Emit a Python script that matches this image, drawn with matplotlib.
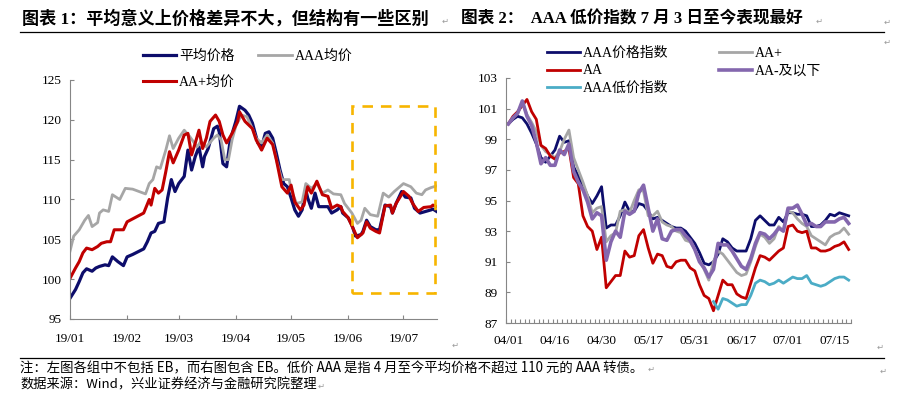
import matplotlib
matplotlib.use("Agg")
import matplotlib.pyplot as plt
import matplotlib.dates as mdates
from matplotlib.patches import Rectangle
import pandas as pd
import numpy as np

# 左图：2019 年以来各组价格（日期用 1 月 1 日起的天数表示）
avg_days = [0, 3, 5, 7, 9, 12, 14, 16, 19, 21, 23, 26, 29, 31, 34, 40, 42, 44, 46, 48, 51, 53, 55, 57, 59,
            62, 64, 66, 68, 70, 72, 73, 75, 78, 80, 81, 83, 85, 87, 90, 92, 95, 97, 99, 101, 102, 104, 106,
            108, 110, 112, 114, 116, 118, 120, 122, 124, 126, 128, 129, 131, 133, 135, 138, 140, 142, 145,
            147, 148, 151, 153, 155, 158, 159, 161, 163, 166, 168, 171, 174, 175, 177, 180, 182, 185, 187,
            190, 193, 196, 197, 199]
avg_vals = [97.6, 98.7, 99.7, 100.8, 101.3, 101.0, 101.4, 101.6, 101.8, 101.7, 102.8, 102.2, 101.7, 102.8,
            103.1, 103.8, 104.7, 105.8, 106.0, 107.0, 107.2, 110.2, 112.5, 111.0, 112.0, 112.9, 116.2, 113.7,
            115.4, 116.6, 114.1, 115.4, 116.4, 118.9, 119.2, 118.5, 114.5, 114.1, 117.5, 119.8, 121.7, 121.2,
            120.6, 119.6, 117.9, 117.1, 116.6, 118.3, 118.5, 117.7, 115.8, 113.7, 112.0, 111.6, 110.2, 108.7,
            107.9, 108.7, 111.2, 110.2, 108.9, 110.8, 109.1, 109.1, 109.1, 108.3, 108.7, 109.1, 108.3, 107.7,
            106.8, 105.4, 105.6, 106.0, 107.4, 106.6, 106.2, 106.2, 109.3, 109.1, 108.3, 109.5, 111.0, 110.3,
            110.2, 108.9, 108.3, 108.5, 108.7, 108.8, 108.5]

aaa_days = [0, 2, 5, 8, 10, 12, 15, 16, 18, 21, 23, 27, 30, 34, 41, 43, 45, 47, 49, 52, 54, 56, 59, 62, 65,
            69, 71, 74, 78, 80, 82, 84, 86, 88, 90, 93, 96, 99, 101, 104, 107, 110, 112, 115, 119, 120, 123,
            126, 128, 131, 134, 137, 140, 143, 147, 149, 153, 156, 158, 160, 163, 167, 170, 173, 176, 178,
            181, 185, 188, 191, 193, 196, 199]
aaa_vals = [103.5, 105.4, 106.2, 107.4, 108.0, 106.6, 107.1, 108.3, 108.7, 108.5, 110.6, 110.0, 111.4, 111.3,
            110.7, 112.0, 112.5, 114.1, 113.9, 116.2, 118.0, 116.4, 117.7, 118.7, 117.9, 116.6, 117.3, 116.6,
            117.7, 118.1, 117.5, 115.0, 115.0, 117.5, 119.2, 120.6, 120.4, 118.9, 117.7, 117.1, 118.1, 117.1,
            115.0, 112.5, 112.5, 111.2, 109.5, 109.7, 112.0, 111.4, 112.0, 110.8, 111.2, 110.7, 110.6, 109.5,
            108.3, 107.0, 107.4, 108.9, 108.1, 107.9, 110.8, 110.3, 111.0, 111.4, 112.0, 111.6, 110.8, 110.6,
            111.2, 111.5, 111.7]

aap_days = [0, 3, 5, 7, 9, 12, 15, 17, 20, 22, 24, 26, 29, 31, 40, 43, 44, 46, 48, 50, 52, 54, 56, 59, 62,
            64, 66, 68, 70, 72, 74, 76, 79, 81, 83, 85, 88, 91, 92, 95, 99, 101, 104, 107, 110, 112, 115, 118,
            120, 122, 125, 127, 129, 131, 134, 137, 140, 142, 145, 147, 148, 151, 154, 156, 159, 161, 163,
            166, 168, 171, 174, 175, 177, 181, 184, 186, 189, 192, 196, 197, 199]
aap_vals = [100.1, 101.4, 102.2, 103.3, 103.9, 103.7, 104.1, 104.5, 104.7, 104.7, 106.2, 106.2, 106.2, 107.2,
            108.3, 110.0, 109.3, 111.4, 110.8, 111.2, 113.5, 116.0, 114.6, 116.2, 118.1, 118.3, 115.6, 117.1,
            118.7, 116.4, 117.7, 119.8, 120.6, 119.8, 118.1, 117.1, 118.3, 119.8, 121.0, 119.8, 118.9, 117.5,
            116.2, 117.7, 116.9, 115.0, 111.6, 110.8, 111.8, 109.7, 108.7, 109.3, 111.6, 110.8, 112.3, 110.6,
            110.4, 108.9, 109.3, 109.1, 108.5, 107.7, 106.2, 105.2, 105.8, 107.2, 106.4, 106.0, 105.8, 109.2,
            109.3, 108.3, 109.5, 111.0, 110.4, 109.5, 108.5, 109.0, 109.1, 109.3, 109.1]

month_labels = ['19/01', '19/02', '19/03', '19/04', '19/05', '19/06', '19/07']

# 右图：4 月 1 日起的交易日指数
right_labels = ['04/01', '04/16', '04/30', '05/17', '05/31', '06/17', '07/01', '07/15']
idx_aaa = [100.0, 100.3, 100.5, 100.4, 100.0, 99.4, 98.7, 97.8, 97.5, 97.9, 98.3, 99.2, 98.8, 98.9, 97.2,
           96.6, 96.0, 95.3, 94.8, 95.3, 95.9, 93.2, 93.4, 93.4, 94.0, 94.9, 94.3, 94.3, 94.8, 94.7, 94.3,
           93.8, 93.9, 93.7, 93.5, 93.3, 93.2, 93.2, 93.0, 92.6, 92.2, 91.6, 90.9, 90.8, 91.0, 91.5, 92.5,
           92.3, 91.9, 91.7, 91.7, 91.7, 92.5, 93.7, 94.0, 93.7, 93.4, 93.4, 93.9, 93.6, 94.2, 94.2, 94.1,
           94.1, 94.0, 93.3, 93.3, 93.4, 93.7, 94.1, 94.0, 94.2, 94.1, 94.0]
idx_aap = [100.0, 100.4, 100.7, 101.4, 100.6, 100.1, 99.5, 98.6, 98.2, 98.0, 97.8, 98.2, 99.0, 99.6, 97.8,
           97.0, 96.2, 95.3, 94.2, 94.5, 94.6, 92.3, 92.7, 92.9, 94.3, 94.4, 94.2, 95.0, 95.7, 95.6, 94.0,
           94.0, 94.3, 93.6, 93.4, 93.3, 93.0, 92.9, 92.4, 92.3, 91.8, 91.1, 90.5, 89.8, 91.0, 91.7, 91.5,
           91.1, 90.7, 90.3, 90.1, 90.2, 91.0, 92.0, 92.8, 92.6, 92.2, 92.5, 93.3, 93.0, 94.3, 94.2, 93.8,
           93.5, 93.3, 92.7, 92.5, 92.3, 92.1, 92.6, 92.8, 92.9, 93.2, 92.8]
idx_aa = [100.0, 100.5, 100.8, 101.2, 101.6, 100.8, 100.3, 98.6, 98.4, 97.9, 97.7, 98.1, 98.2, 98.4, 96.5,
          96.1, 94.0, 93.3, 93.0, 91.8, 92.6, 89.3, 89.7, 90.1, 90.1, 91.7, 91.3, 91.4, 92.7, 93.1, 91.9,
          90.9, 91.5, 91.4, 90.7, 90.6, 91.0, 91.1, 91.1, 90.6, 90.4, 89.5, 88.8, 88.6, 87.8, 88.8, 89.8,
          89.5, 89.5, 88.9, 88.7, 88.6, 89.6, 90.6, 91.4, 91.3, 91.1, 91.4, 91.7, 91.9, 93.3, 93.4, 93.0,
          92.9, 93.0, 91.9, 91.9, 91.7, 91.7, 91.8, 92.0, 92.1, 92.3, 91.8]
idx_aam = [100.0, 100.4, 100.7, 101.5, 100.5, 99.9, 98.8, 97.4, 97.8, 97.3, 97.3, 98.3, 98.0, 98.7, 96.9,
           96.2, 95.7, 94.9, 93.8, 94.2, 94.0, 91.1, 92.3, 93.0, 92.6, 94.3, 94.1, 94.3, 95.5, 96.0, 94.5,
           93.0, 93.8, 92.5, 92.4, 93.0, 93.1, 93.1, 92.7, 92.4, 91.8, 91.0, 90.6, 90.0, 90.5, 92.2, 92.1,
           92.1, 91.7, 91.2, 90.7, 90.5, 91.2, 92.2, 92.9, 92.8, 92.5, 92.8, 93.2, 93.0, 94.5, 94.5, 94.7,
           94.1, 93.4, 93.5, 93.3, 93.3, 93.6, 93.6, 93.6, 93.8, 93.9, 93.5]
# 低价指数从 6 月初才开始
low_start = 44
idx_low = [88.4, 87.9, 88.6, 88.5, 88.3, 88.1, 88.2, 88.2, 88.8, 89.6, 89.8, 89.7, 89.5, 89.6, 89.8, 89.6,
           89.8, 90.0, 89.9, 89.9, 90.1, 89.6, 89.5, 89.4, 89.5, 89.7, 89.9, 90.0, 90.0, 89.8]

NAVY = '#0D0D6B'
GREY = '#A6A6A6'
RED = '#C00000'
PURPLE = '#8467AE'
CYAN = '#4BACC6'
AXIS = '#868686'

CJK = 'Noto Sans CJK SC'
MIX = ['Liberation Serif', CJK]

fig = plt.figure(figsize=(9.08, 3.95), dpi=100)
W, H = 908, 395

def fx(px):
    return px / W

def fy(py):
    return 1 - py / H

# 标题与分隔线
fig.text(fx(22), fy(19), '图表 1：平均意义上价格差异不大，但结构有一些区别', family=MIX,
         fontsize=12.3, fontweight='bold', va='center', ha='left')
fig.text(fx(461), fy(19), '图表 2：  AAA 低价指数 7 月 3 日至今表现最好', family=MIX,
         fontsize=12.0, fontweight='bold', va='center', ha='left')
fig.add_artist(plt.Line2D([fx(20), fx(884)], [fy(32), fy(32)], color='black', lw=0.9))
fig.add_artist(plt.Line2D([fx(20), fx(884)], [fy(358), fy(358)], color='black', lw=0.9))
fig.text(fx(20), fy(368), '注：左图各组中不包括 EB，而右图包含 EB。低价 AAA 是指 4 月至今平均价格不超过 110 元的 AAA 转债。',
         family=[CJK], fontsize=9.6, va='center', ha='left')
fig.text(fx(20), fy(385), '数据来源：Wind，兴业证券经济与金融研究院整理', family=[CJK], fontsize=9.5,
         va='center', ha='left')

# 段落标记
for px, py in [(442, 21), (816, 21), (884, 22), (884, 42), (452, 345), (877, 347),
               (648, 369), (880, 371), (318, 386)]:
    fig.text(fx(px), fy(py), '↵', family=['DejaVu Sans'], fontsize=6, color='#9A9A9A',
             va='center', ha='left')


def style_axes(ax):
    for side in ['top', 'right']:
        ax.spines[side].set_visible(False)
    for side in ['left', 'bottom']:
        ax.spines[side].set_color(AXIS)
        ax.spines[side].set_linewidth(0.8)
    ax.tick_params(which='both', direction='in', color=AXIS, width=0.8, labelsize=9.5)
    for lab in ax.get_xticklabels() + ax.get_yticklabels():
        lab.set_family('Liberation Serif')


# ---- 左图 ----
base = pd.Timestamp('2019-01-01')

def to_dates(days):
    return base + pd.to_timedelta(days, unit='D')

ax1 = fig.add_axes([fx(70), fy(319), fx(437) - fx(70), fy(80) - fy(319)])
l_avg, = ax1.plot(to_dates(avg_days), avg_vals, color=NAVY, lw=2.3, label='平均价格')
l_aaa, = ax1.plot(to_dates(aaa_days), aaa_vals, color=GREY, lw=2.0, label='AAA均价')
l_aap, = ax1.plot(to_dates(aap_days), aap_vals, color=RED, lw=2.2, label='AA+均价')
ax1.set_ylim(95, 125)
ax1.set_yticks(np.arange(95, 126, 5))
ax1.set_xlim(base, base + pd.Timedelta(days=199.2))
ax1.set_xticks(pd.date_range('2019-01-01', '2019-07-01', freq='MS'))
ax1.set_xticklabels(month_labels)
ax1.tick_params(axis='x', length=3, pad=10)
ax1.tick_params(axis='y', length=3, pad=6)
style_axes(ax1)

x0 = mdates.date2num(base + pd.Timedelta(days=153))
x1 = mdates.date2num(base + pd.Timedelta(days=198.2))
ax1.add_patch(Rectangle((x0, 98.25), x1 - x0, 121.7 - 98.25, fill=False, edgecolor='#F7B500',
                        lw=1.9, ls=(0, (4, 3)), zorder=5))

fig.legend([l_avg, l_aap, l_aaa], ['平均价格', 'AA+均价', 'AAA均价'], ncol=2, loc='upper left',
           bbox_to_anchor=(fx(143), fy(50)), frameon=False, borderpad=0, borderaxespad=0,
           handlelength=2.4, handletextpad=0.2, columnspacing=1.7, labelspacing=0.85,
           prop={'family': MIX, 'size': 10})

# ---- 右图 ----
ax2 = fig.add_axes([fx(506), fy(323), fx(851) - fx(506), fy(78) - fy(323)])
n = len(idx_aaa)
xs = np.arange(n)
r_aaa, = ax2.plot(xs, idx_aaa, color=NAVY, lw=2.0)
r_aap, = ax2.plot(xs, idx_aap, color=GREY, lw=2.0)
r_aa, = ax2.plot(xs, idx_aa, color=RED, lw=2.0)
r_aam, = ax2.plot(xs, idx_aam, color=PURPLE, lw=2.6)
r_low, = ax2.plot(np.arange(low_start, low_start + len(idx_low)), idx_low, color=CYAN, lw=2.0)
ax2.set_ylim(87, 103)
ax2.set_yticks(np.arange(87, 104, 2))
ax2.set_xlim(-0.5, n - 0.5)
ax2.set_xticks(np.arange(0, n, 10))
ax2.set_xticklabels(right_labels)
ax2.set_xticks(np.arange(-0.5, n, 1), minor=True)
ax2.tick_params(axis='x', which='major', length=0, pad=9)
ax2.tick_params(axis='x', which='minor', length=3)
ax2.tick_params(axis='y', length=3, pad=6)
style_axes(ax2)

fig.legend([r_aaa, r_aa, r_low, r_aap, r_aam], ['AAA价格指数', 'AA', 'AAA低价指数', 'AA+', 'AA-及以下'],
           ncol=2, loc='upper left', bbox_to_anchor=(fx(547), fy(47)), frameon=False, borderpad=0,
           borderaxespad=0, handlelength=2.4, handletextpad=0.2, columnspacing=3.6, labelspacing=0.3,
           prop={'family': MIX, 'size': 10})

fig.savefig('out.png', dpi=100)
